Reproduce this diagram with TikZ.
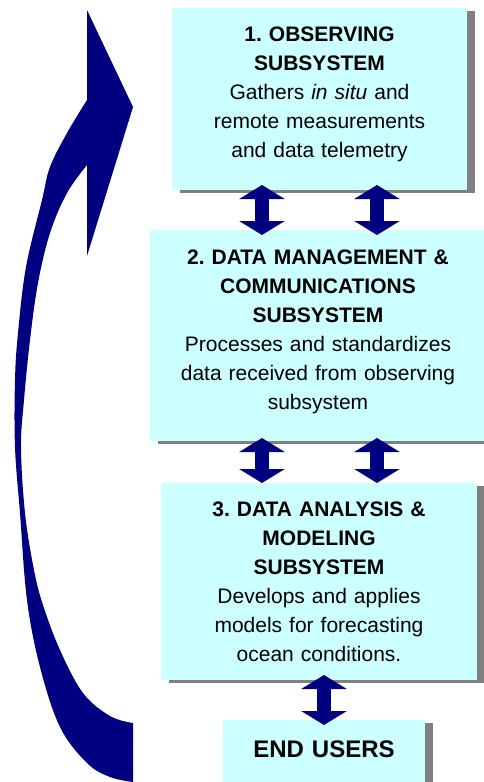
\documentclass[tikz,border=0pt]{standalone}
\usepackage{fontspec}
\setmainfont{Liberation Sans}
\usetikzlibrary{arrows.meta,shadows}
\definecolor{navy}{RGB}{0,0,128}
\definecolor{boxcyan}{RGB}{204,255,255}
\definecolor{shadowgray}{RGB}{128,128,128}
\frenchspacing
\begin{document}
\begin{tikzpicture}[x=1pt,y=-1pt,
  panel/.style={fill=boxcyan, draw=none, inner sep=0pt, outer sep=0pt, anchor=north west,
    drop shadow={shadow xshift=8pt, shadow yshift=-3pt, fill=shadowgray, opacity=1}},
  txt/.style={inner sep=0pt, anchor=base, align=center, text width=330pt,
    font=\fontsize{21}{29}\selectfont\frenchspacing},
  dbl/.style={draw=navy, line width=14pt,
    {Triangle[width=45pt,length=14pt]}-{Triangle[width=45pt,length=14pt]}},
  bigarrow/.style={fill=navy, draw=none}
]
\useasboundingbox (0,0) rectangle (484,782);
\fill[white] (0,0) rectangle (484,782);

% big curved return arrow
\path[bigarrow] (87,10) -- (133,107) -- (87,256) -- (87,165)
  -- plot[smooth, tension=0.6] coordinates {(87,165) (67,193) (50,233) (38,283) (30,340) (24,400) (21,447) (25,513) (34,570) (43,605) (60,650) (83,693) (110,716) (133,723)}
  -- (133,782)
  -- plot[smooth, tension=0.6] coordinates {(133,782) (110,777) (87,763) (60,727) (40,667) (27,600) (20,513) (15,447) (15,380) (18,333) (26,267) (42,200) (50,167) (67,133) (87,100)}
  -- cycle;

% boxes
\node[panel, minimum width=295pt, minimum height=182pt] (b1) at (172,8) {};
\node[panel, minimum width=336pt, minimum height=211pt] (b2) at (150,230) {};
\node[panel, minimum width=316pt, minimum height=197pt] (b3) at (161,483) {};
\node[panel, minimum width=202pt, minimum height=90pt] (b4) at (223,720) {};

% texts
\node[txt] (t1) at (319.5,41) {\textbf{1. OBSERVING}\\\textbf{SUBSYSTEM}\\Gathers \textit{in situ} and\\remote measurements\\and data telemetry};
\node[txt] (t2) at (318,264) {\textbf{2. DATA MANAGEMENT \&}\\\textbf{COMMUNICATIONS}\\\textbf{SUBSYSTEM}\\Processes and standardizes\\data received from observing\\subsystem};
\node[txt] (t3) at (319,516) {\textbf{3. DATA ANALYSIS \&}\\\textbf{MODELING}\\\textbf{SUBSYSTEM}\\Develops and applies\\models for forecasting\\ocean conditions.};
\node[txt, text width=200pt, font=\fontsize{24}{29}\selectfont\bfseries] (t4) at (324,757) {END USERS};

% double arrows
\coordinate (colL) at (262,0);
\coordinate (colR) at (377,0);
\draw[dbl, shorten <=-5pt, shorten >=-5pt] (b1.south -| colL) -- (b2.north -| colL);
\draw[dbl, shorten <=-5pt, shorten >=-5pt] (b1.south -| colR) -- (b2.north -| colR);
\draw[dbl, shorten <=-3pt] (b2.south -| colL) -- (b3.north -| colL);
\draw[dbl, shorten <=-3pt] (b2.south -| colR) -- (b3.north -| colR);
\draw[dbl, shorten <=-5pt, shorten >=-5pt] (b3.south -| b4.north) -- (b4.north);
\end{tikzpicture}
\end{document}
